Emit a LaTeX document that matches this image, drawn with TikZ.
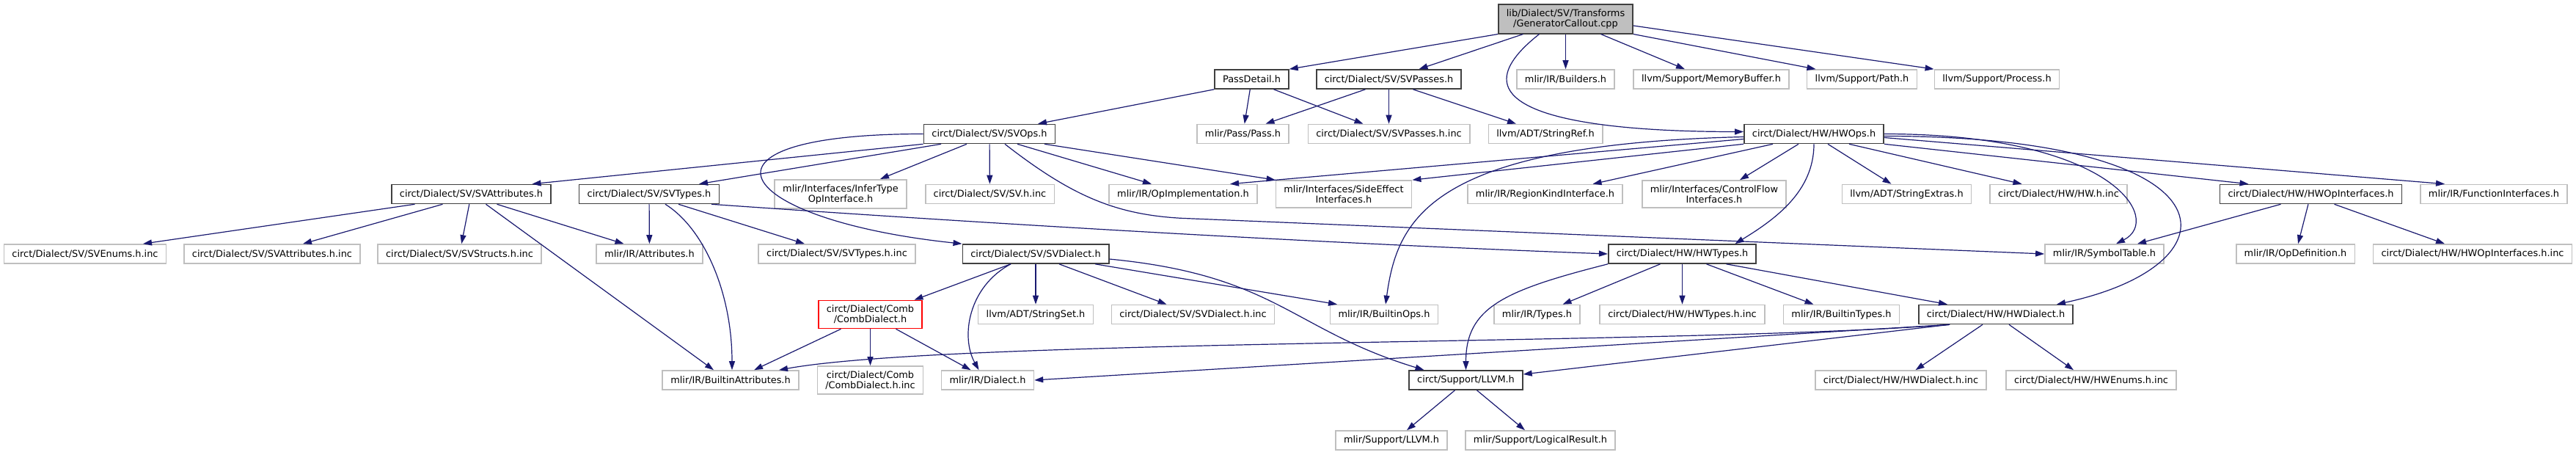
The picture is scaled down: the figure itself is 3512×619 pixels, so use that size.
\documentclass[tikz,border=0pt]{standalone}
\usepackage{fontspec}
\setmainfont{DejaVu Sans}
\usetikzlibrary{arrows.meta}
\definecolor{edgeblue}{HTML}{191970}
\definecolor{rootgray}{HTML}{BFBFBF}
\definecolor{hdrline}{HTML}{404040}
\definecolor{extline}{HTML}{BFBFBF}
\begin{document}
\begin{tikzpicture}[x=1pt, y=-1pt,
    box/.style={rectangle, align=center, inner xsep=11pt, inner ysep=6.5pt, minimum height=26pt,
        font=\fontsize{12.9}{14}\selectfont},
    srcbox/.style={box, draw=hdrline, fill=rootgray, line width=1.6pt},
    hdrbox/.style={box, draw=hdrline, fill=white, line width=1.6pt},
    extbox/.style={box, draw=extline, fill=white, line width=1.6pt},
    cutbox/.style={box, draw=red, fill=white, line width=1.6pt},
    incl/.style={draw=edgeblue, line width=1.2pt, -{Triangle[length=12pt, width=8pt]}}]
        \path[use as bounding box, fill=white] (0,0) rectangle (3512,619);
        % Source file
        \node[srcbox] (root) at (2134.5,26) {lib/Dialect/SV/Transforms\\/GeneratorCallout.cpp};
        % Row 2
        \node[hdrbox] (passdetail) at (1706.5,108) {PassDetail.h};
        \node[hdrbox] (svpasses) at (1893.5,108) {circt/Dialect/SV/SVPasses.h};
        \node[extbox] (builders) at (2134.5,108) {mlir/IR/Builders.h};
        \node[extbox] (memorybuffer) at (2333,108) {llvm/Support/MemoryBuffer.h};
        \node[extbox] (path) at (2538.5,108) {llvm/Support/Path.h};
        \node[extbox] (process) at (2722.5,108) {llvm/Support/Process.h};
        % Row 3
        \node[hdrbox] (svops) at (1349,182.5) {circt/Dialect/SV/SVOps.h};
        \node[extbox] (pass) at (1694.5,182.5) {mlir/Pass/Pass.h};
        \node[extbox] (svpassesinc) at (1893.5,182.5) {circt/Dialect/SV/SVPasses.h.inc};
        \node[extbox] (stringref) at (2107,182.5) {llvm/ADT/StringRef.h};
        \node[hdrbox] (hwops) at (2473,182.5) {circt/Dialect/HW/HWOps.h};
        % Row 4
        \node[hdrbox] (svattributes) at (642.5,264.5) {circt/Dialect/SV/SVAttributes.h};
        \node[hdrbox] (svtypes) at (885,264.5) {circt/Dialect/SV/SVTypes.h};
        \node[extbox] (infertype) at (1146,264.5) {mlir/Interfaces/InferType\\OpInterface.h};
        \node[extbox] (svinc) at (1349.5,264.5) {circt/Dialect/SV/SV.h.inc};
        \node[extbox] (opimpl) at (1613,264.5) {mlir/IR/OpImplementation.h};
        \node[extbox] (sideeffect) at (1832,264.5) {mlir/Interfaces/SideEffect\\Interfaces.h};
        \node[extbox] (regionkind) at (2106.5,264.5) {mlir/IR/RegionKindInterface.h};
        \node[extbox] (controlflow) at (2337,264.5) {mlir/Interfaces/ControlFlow\\Interfaces.h};
        \node[extbox] (stringextras) at (2599.5,264.5) {llvm/ADT/StringExtras.h};
        \node[extbox] (hwinc) at (2806.5,264.5) {circt/Dialect/HW/HW.h.inc};
        \node[hdrbox] (hwopinterfaces) at (3150.5,264.5) {circt/Dialect/HW/HWOpInterfaces.h};
        \node[extbox] (functioninterfaces) at (3400,264.5) {mlir/IR/FunctionInterfaces.h};
        % Row 5
        \node[extbox] (svenumsinc) at (116,346) {circt/Dialect/SV/SVEnums.h.inc};
        \node[extbox] (svattributesinc) at (371,346) {circt/Dialect/SV/SVAttributes.h.inc};
        \node[extbox] (svstructsinc) at (626.5,346) {circt/Dialect/SV/SVStructs.h.inc};
        \node[extbox] (attributes) at (885.5,346) {mlir/IR/Attributes.h};
        \node[extbox] (svtypesinc) at (1141,346) {circt/Dialect/SV/SVTypes.h.inc};
        \node[hdrbox] (svdialect) at (1412,346) {circt/Dialect/SV/SVDialect.h};
        \node[hdrbox] (hwtypes) at (2293.5,346) {circt/Dialect/HW/HWTypes.h};
        \node[extbox] (symboltable) at (2869,346) {mlir/IR/SymbolTable.h};
        \node[extbox] (opdefinition) at (3129.5,346) {mlir/IR/OpDefinition.h};
        \node[extbox] (hwopinterfacesinc) at (3371,346) {circt/Dialect/HW/HWOpInterfaces.h.inc};
        % Row 6
        \node[cutbox] (combdialect) at (1186.5,428.5) {circt/Dialect/Comb\\/CombDialect.h};
        \node[extbox] (stringset) at (1412,428.5) {llvm/ADT/StringSet.h};
        \node[extbox] (svdialectinc) at (1626.5,428.5) {circt/Dialect/SV/SVDialect.h.inc};
        \node[extbox] (builtinops) at (1887,428.5) {mlir/IR/BuiltinOps.h};
        \node[extbox] (types) at (2095.5,428.5) {mlir/IR/Types.h};
        \node[extbox] (hwtypesinc) at (2293.5,428.5) {circt/Dialect/HW/HWTypes.h.inc};
        \node[extbox] (builtintypes) at (2510.5,428.5) {mlir/IR/BuiltinTypes.h};
        \node[hdrbox] (hwdialect) at (2721,428.5) {circt/Dialect/HW/HWDialect.h};
        % Row 7
        \node[extbox] (builtinattributes) at (996,518) {mlir/IR/BuiltinAttributes.h};
        \node[extbox] (combdialectinc) at (1186.5,518) {circt/Dialect/Comb\\/CombDialect.h.inc};
        \node[extbox] (dialect) at (1346.5,518) {mlir/IR/Dialect.h};
        \node[hdrbox] (llvm) at (1998.5,518) {circt/Support/LLVM.h};
        \node[extbox] (hwdialectinc) at (2591.5,518) {circt/Dialect/HW/HWDialect.h.inc};
        \node[extbox] (hwenumsinc) at (2851,518) {circt/Dialect/HW/HWEnums.h.inc};
        % Row 8
        \node[extbox] (mlirllvm) at (1897,600) {mlir/Support/LLVM.h};
        \node[extbox] (logicalresult) at (2100,600) {mlir/Support/LogicalResult.h};
        % Includes of the source file
        \draw[incl] (root.south west) -- (passdetail.north east);
        \draw[incl] ([xshift=-58pt]root.south) -- ([xshift=41pt]svpasses.north);
        \draw[incl] ([xshift=-36pt]root.south) .. controls +(-140,110) and +(-200,0) .. ([yshift=3pt]hwops.west);
        \draw[incl] (root) -- (builders);
        \draw[incl] ([xshift=48pt]root.south) -- ([xshift=-36pt]memorybuffer.north);
        \draw[incl] (root.south east) -- ([xshift=-63pt]path.north);
        \draw[incl] ([yshift=-9pt]root.east) -- (process.north west);
        % PassDetail.h and SVPasses.h
        \draw[incl] (passdetail.south west) -- ([xshift=66pt]svops.north);
        \draw[incl] (passdetail) -- (pass);
        \draw[incl] ([xshift=30pt]passdetail.south) -- ([xshift=-35pt]svpassesinc.north);
        \draw[incl] ([xshift=-32pt]svpasses.south) -- ([xshift=31pt]pass.north);
        \draw[incl] (svpasses) -- (svpassesinc);
        \draw[incl] ([xshift=33pt]svpasses.south) -- ([xshift=-40pt]stringref.north);
        % SVOps.h
        \draw[incl] (svops.south west) -- ([xshift=83pt]svattributes.north);
        \draw[incl] ([xshift=-66pt]svops.south) -- ([xshift=68pt]svtypes.north);
        \draw[incl] ([xshift=-31pt]svops.south) -- ([xshift=54pt]infertype.north);
        \draw[incl] (svops) -- (svinc);
        \draw[incl] ([xshift=38pt]svops.south) -- ([xshift=-43pt]opimpl.north);
        \draw[incl] ([xshift=75pt]svops.south) -- (sideeffect.north west);
        \draw[incl] (svops.west) .. controls +(-340,0) and +(-312,-33) .. (svdialect.north west);
        \draw[incl] ([xshift=21pt]svops.south) .. controls +(90,70) and +(-90,-5) .. +(240,101) -- (symboltable.west);
        % SVAttributes.h and SVTypes.h
        \draw[incl] ([xshift=-77pt]svattributes.south) -- ([xshift=79pt]svenumsinc.north);
        \draw[incl] ([xshift=-39pt]svattributes.south) -- ([xshift=42pt]svattributesinc.north);
        \draw[incl] (svattributes) -- (svstructsinc);
        \draw[incl] ([xshift=20pt]svattributes.south) -- ([xshift=-23pt]builtinattributes.north);
        \draw[incl] ([xshift=35pt]svattributes.south) -- ([xshift=-35pt]attributes.north);
        \draw[incl] (svtypes) -- (attributes);
        \draw[incl] ([xshift=22pt]svtypes.south) .. controls +(53,33) and +(0,-105) .. ([xshift=2pt]builtinattributes.north);
        \draw[incl] ([xshift=40pt]svtypes.south) -- ([xshift=-44pt]svtypesinc.north);
        \draw[incl] ([xshift=85pt]svtypes.south) .. controls +(400,28) and +(-400,-15) .. (hwtypes.west);
        % SVDialect.h and CombDialect.h
        \draw[incl] ([xshift=-34pt]svdialect.south) -- ([xshift=60pt]combdialect.north);
        \draw[incl] ([xshift=-34pt]svdialect.south) .. controls +(-58,31) and +(-25,-45) .. ([xshift=-12pt]dialect.north);
        \draw[incl] (svdialect) -- (stringset);
        \draw[incl] ([xshift=32pt]svdialect.south) -- ([xshift=-36pt]svdialectinc.north);
        \draw[incl] ([xshift=81pt]svdialect.south) -- ([xshift=-64pt]builtinops.north);
        \draw[incl] ([yshift=-7pt]svdialect.east) .. controls +(228,22) and +(-181,-55) .. ([xshift=-57pt]llvm.north);
        \draw[incl] ([xshift=-40pt]combdialect.south) -- ([xshift=32pt]builtinattributes.north);
        \draw[incl] (combdialect) -- (combdialectinc);
        \draw[incl] ([xshift=35pt]combdialect.south) -- ([xshift=-23pt]dialect.north);
        % HWOps.h
        \draw[incl] ([yshift=-4pt]hwops.west) .. controls +(-430,10) and +(16,-115) .. ([xshift=2pt]builtinops.north);
        \draw[incl] ([yshift=-7pt]hwops.west) -- ([xshift=64pt]opimpl.north);
        \draw[incl] (hwops.south west) -- (sideeffect.north east);
        \draw[incl] ([xshift=-56pt]hwops.south) -- ([xshift=65pt]regionkind.north);
        \draw[incl] ([xshift=-21pt]hwops.south) -- ([xshift=35pt]controlflow.north);
        \draw[incl] (hwops.south) .. controls +(0,65) and +(54,-33) .. ([xshift=72pt]hwtypes.north);
        \draw[incl] ([xshift=19pt]hwops.south) -- ([xshift=-21pt]stringextras.north);
        \draw[incl] ([xshift=48pt]hwops.south) -- ([xshift=-50pt]hwinc.north);
        \draw[incl] (hwops.south east) -- ([xshift=-85pt]hwopinterfaces.north);
        \draw[incl] ([yshift=-5pt]hwops.east) -- ([xshift=-67pt]functioninterfaces.north);
        \draw[incl] (hwops.east) .. controls +(312,0) and +(65,-33) .. ([xshift=16pt]symboltable.north);
        \draw[incl] ([yshift=-3pt]hwops.east) .. controls +(482,0) and +(256,-55) .. ([xshift=83pt]hwdialect.north);
        % HWOpInterfaces.h and HWTypes.h
        \draw[incl] ([xshift=-41pt]hwopinterfaces.south) -- ([xshift=45pt]symboltable.north);
        \draw[incl] (hwopinterfaces) -- (opdefinition);
        \draw[incl] ([xshift=32pt]hwopinterfaces.south) -- ([xshift=-38pt]hwopinterfacesinc.north);
        \draw[incl] (hwtypes.south west) .. controls +(-142,36) and +(0,-85) .. (llvm.north);
        \draw[incl] ([xshift=-30pt]hwtypes.south) -- ([xshift=35pt]types.north);
        \draw[incl] (hwtypes) -- (hwtypesinc);
        \draw[incl] ([xshift=33pt]hwtypes.south) -- ([xshift=-38pt]builtintypes.north);
        \draw[incl] ([xshift=60pt]hwtypes.south) -- ([xshift=-66pt]hwdialect.north);
        % HWDialect.h and LLVM.h
        \draw[incl] ([xshift=-63pt]hwdialect.south) .. controls +(-358,28) and +(238,-43) .. ([xshift=66pt]builtinattributes.north);
        \draw[incl] ([xshift=-63pt]hwdialect.south) -- (dialect.east);
        \draw[incl] ([xshift=-63pt]hwdialect.south) -- ([yshift=8pt]llvm.east);
        \draw[incl] ([xshift=-18pt]hwdialect.south) -- ([xshift=20pt]hwdialectinc.north);
        \draw[incl] ([xshift=18pt]hwdialect.south) -- ([xshift=-24pt]hwenumsinc.north);
        \draw[incl] ([xshift=-15pt]llvm.south) -- ([xshift=21pt]mlirllvm.north);
        \draw[incl] ([xshift=15pt]llvm.south) -- ([xshift=-21pt]logicalresult.north);
    \end{tikzpicture}
\end{document}
